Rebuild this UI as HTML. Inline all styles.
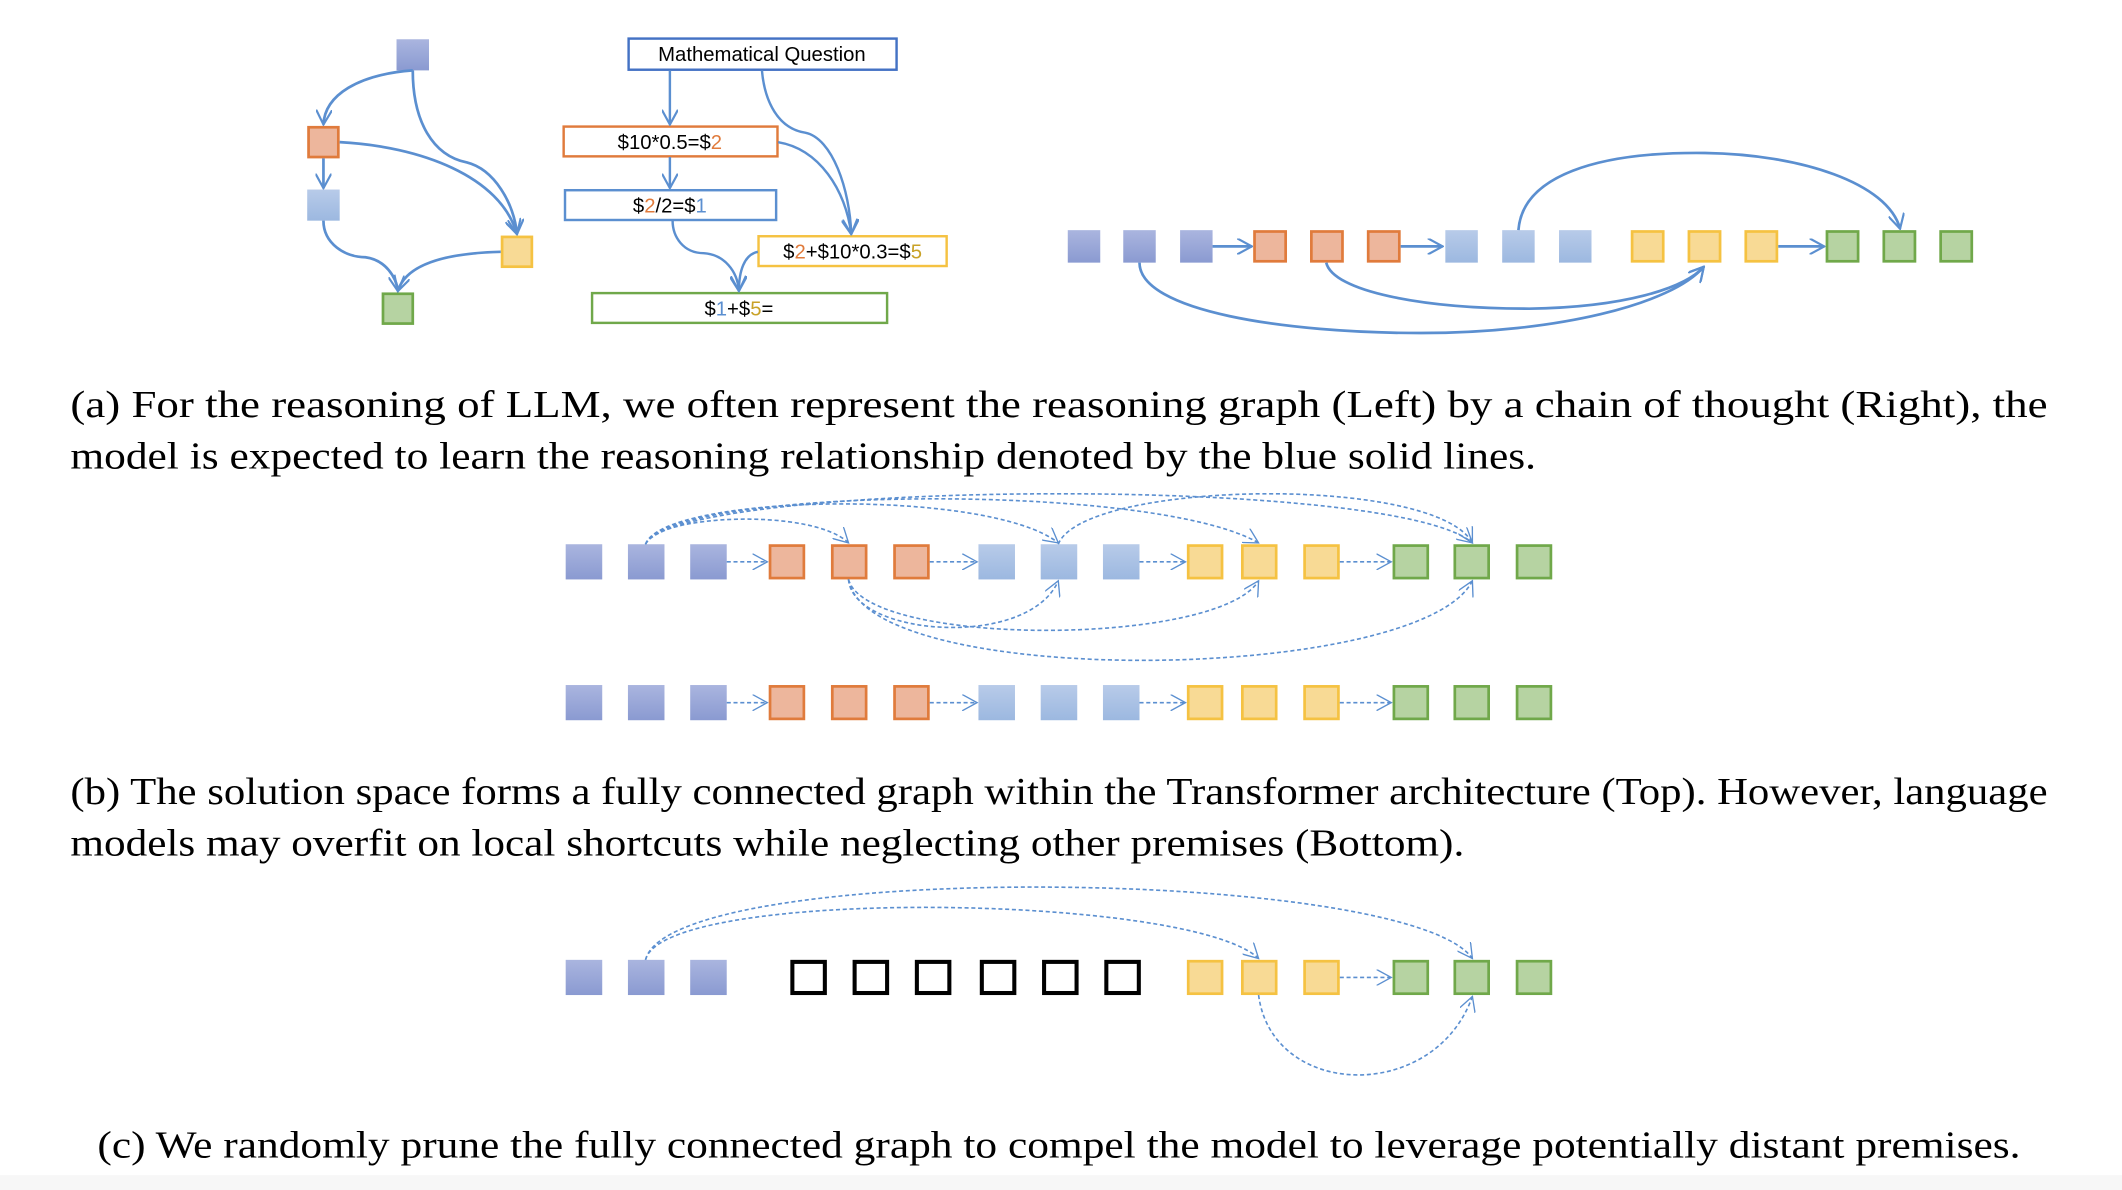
<!DOCTYPE html>
<html><head><meta charset="utf-8"><style>
html,body{margin:0;padding:0;background:#fff;}
svg{display:block;}
</style></head><body>
<svg width="2122" height="1190" viewBox="0 0 1568 879" preserveAspectRatio="none" xmlns="http://www.w3.org/2000/svg">
<defs>
<linearGradient id="gb" x1="0" y1="0" x2="0" y2="1"><stop offset="0" stop-color="#aab5df"/><stop offset="1" stop-color="#8a9ad1"/></linearGradient>
<linearGradient id="gl" x1="0" y1="0" x2="0" y2="1"><stop offset="0" stop-color="#b8cbe9"/><stop offset="1" stop-color="#9cb8e0"/></linearGradient>
<marker id="a" viewBox="0 0 12 12" refX="11" refY="6" markerWidth="12" markerHeight="12" markerUnits="userSpaceOnUse" orient="auto"><polyline points="0,0 11,6 0,12" fill="none" stroke="#5b8fd0" stroke-width="1.6"/></marker>
<marker id="d" viewBox="0 0 12 12" refX="11" refY="6" markerWidth="12" markerHeight="12" markerUnits="userSpaceOnUse" orient="auto"><polyline points="0,0 11,6 0,12" fill="none" stroke="#5b8fd0" stroke-width="1"/></marker>
<g id="B"><rect width="27" height="26" fill="url(#gb)"/></g>
<g id="O"><rect x="1" y="1" width="25" height="24" fill="#edb69c" stroke="#e07b3c" stroke-width="2"/></g>
<g id="L"><rect width="27" height="26" fill="url(#gl)"/></g>
<g id="Y"><rect x="1" y="1" width="25" height="24" fill="#f8da95" stroke="#f5c242" stroke-width="2"/></g>
<g id="G"><rect x="1" y="1" width="25" height="24" fill="#b6d3a2" stroke="#70a84a" stroke-width="2"/></g>
<g id="E"><rect x="1.5" y="1.5" width="24" height="23" fill="none" stroke="#000" stroke-width="3"/></g>
</defs>

<g fill="none" stroke="#5b8fd0" stroke-width="2">
<rect x="293" y="29" width="24" height="23" fill="url(#gb)" stroke="none"/>
<rect x="228" y="94" width="22" height="22" fill="#edb69c" stroke="#e07b3c"/>
<rect x="227" y="140" width="24" height="23" fill="url(#gl)" stroke="none"/>
<rect x="371" y="175" width="22" height="22" fill="#f8da95" stroke="#f5c242"/>
<rect x="283" y="217" width="22" height="22" fill="#b6d3a2" stroke="#70a84a"/>
<path d="M305,52 C265,55 240,70 239,92" marker-end="url(#a)"/>
<path d="M305,52 C305,90 320,115 345,120 C365,125 380,150 382,173" marker-end="url(#a)"/>
<path d="M251,105 C310,108 370,130 382,173" marker-end="url(#a)"/>
<path d="M239,117 L239,139" marker-end="url(#a)"/>
<path d="M239,163 C239,180 255,190 270,190 C285,192 293,205 294,215" marker-end="url(#a)"/>
<path d="M370,186 C330,187 300,195 294,215" marker-end="url(#a)"/>
</g>

<g fill="none" stroke-width="1.8" font-family="Liberation Sans, sans-serif" font-size="15" text-anchor="middle">
<rect x="464.5" y="28.5" width="198" height="23" stroke="#4472c4" fill="#fff"/>
<text x="563" y="45" fill="#000" stroke="none">Mathematical Question</text>
<rect x="416.5" y="93.5" width="158" height="22" stroke="#e07b3c" fill="#fff"/>
<text x="495" y="110" fill="#000" stroke="none">$10*0.5=$<tspan fill="#e07b3c">2</tspan></text>
<rect x="417.5" y="140.5" width="156" height="22" stroke="#5b8fd0" fill="#fff"/>
<text x="495" y="157" fill="#000" stroke="none">$<tspan fill="#e07b3c">2</tspan>/2=$<tspan fill="#5b8fd0">1</tspan></text>
<rect x="560.5" y="174.5" width="139" height="22" stroke="#f5c242" fill="#fff"/>
<text x="630" y="191" fill="#000" stroke="none">$<tspan fill="#e07b3c">2</tspan>+$10*0.3=$<tspan fill="#c9a227">5</tspan></text>
<rect x="437.5" y="216.5" width="218" height="22" stroke="#70a84a" fill="#fff"/>
<text x="546" y="233" fill="#000" stroke="none">$<tspan fill="#5b8fd0">1</tspan>+$<tspan fill="#c9a227">5</tspan>=</text>
</g>
<g fill="none" stroke="#5b8fd0" stroke-width="1.8">
<path d="M495,52 L495,92" marker-end="url(#a)"/>
<path d="M563,52 C565,75 575,95 595,98 C615,102 628,140 629,173" marker-end="url(#a)"/>
<path d="M575,105 C605,110 625,140 629,173" marker-end="url(#a)"/>
<path d="M495,116 L495,139" marker-end="url(#a)"/>
<path d="M497,163 C497,175 505,187 520,187 C535,188 545,200 546,215" marker-end="url(#a)"/>
<path d="M560,186 C550,188 546,200 546,215" marker-end="url(#a)"/>
</g>

<g>
<rect x="789" y="170" width="24" height="24" fill="url(#gb)"/>
<rect x="830" y="170" width="24" height="24" fill="url(#gb)"/>
<rect x="872" y="170" width="24" height="24" fill="url(#gb)"/>
<rect x="927" y="171" width="23" height="22" fill="#edb69c" stroke="#e07b3c" stroke-width="2"/>
<rect x="969" y="171" width="23" height="22" fill="#edb69c" stroke="#e07b3c" stroke-width="2"/>
<rect x="1011" y="171" width="23" height="22" fill="#edb69c" stroke="#e07b3c" stroke-width="2"/>
<rect x="1068" y="170" width="24" height="24" fill="url(#gl)"/>
<rect x="1110" y="170" width="24" height="24" fill="url(#gl)"/>
<rect x="1152" y="170" width="24" height="24" fill="url(#gl)"/>
<rect x="1206" y="171" width="23" height="22" fill="#f8da95" stroke="#f5c242" stroke-width="2"/>
<rect x="1248" y="171" width="23" height="22" fill="#f8da95" stroke="#f5c242" stroke-width="2"/>
<rect x="1290" y="171" width="23" height="22" fill="#f8da95" stroke="#f5c242" stroke-width="2"/>
<rect x="1350" y="171" width="23" height="22" fill="#b6d3a2" stroke="#70a84a" stroke-width="2"/>
<rect x="1392" y="171" width="23" height="22" fill="#b6d3a2" stroke="#70a84a" stroke-width="2"/>
<rect x="1434" y="171" width="23" height="22" fill="#b6d3a2" stroke="#70a84a" stroke-width="2"/>
</g>
<g fill="none" stroke="#5b8fd0" stroke-width="2">
<path d="M896,182 L925,182" marker-end="url(#a)"/>
<path d="M1035,182 L1066,182" marker-end="url(#a)"/>
<path d="M1314,182 L1348,182" marker-end="url(#a)"/>
<path d="M1122,170 C1125,130 1180,112 1260,113 C1330,114 1395,135 1404,169" marker-end="url(#a)"/>
<path d="M842,194 C842,230 950,246 1050,246 C1150,246 1235,225 1259,197" marker-end="url(#a)"/>
<path d="M980,194 C985,215 1050,228 1130,228 C1200,227 1245,213 1259,197" marker-end="url(#a)"/>
</g>

<g font-family="Liberation Serif, serif" font-size="28" fill="#000">
<text x="52" y="308" textLength="1461" lengthAdjust="spacingAndGlyphs">(a) For the reasoning of LLM, we often represent the reasoning graph (Left) by a chain of thought (Right), the</text>
<text x="52" y="346" textLength="1083" lengthAdjust="spacingAndGlyphs">model is expected to learn the reasoning relationship denoted by the blue solid lines.</text>
<text x="52" y="594" textLength="1461" lengthAdjust="spacingAndGlyphs">(b) The solution space forms a fully connected graph within the Transformer architecture (Top). However, language</text>
<text x="52" y="632" textLength="1030" lengthAdjust="spacingAndGlyphs">models may overfit on local shortcuts while neglecting other premises (Bottom).</text>
<text x="72" y="855" textLength="1421" lengthAdjust="spacingAndGlyphs">(c) We randomly prune the fully connected graph to compel the model to leverage potentially distant premises.</text>
</g>

<g transform="translate(0,402)">
<use href="#B" x="418"/><use href="#B" x="464"/><use href="#B" x="510"/>
<use href="#O" x="568"/><use href="#O" x="614"/><use href="#O" x="660"/>
<use href="#L" x="723"/><use href="#L" x="769"/><use href="#L" x="815"/>
<use href="#Y" x="877"/><use href="#Y" x="917"/><use href="#Y" x="963"/>
<use href="#G" x="1029"/><use href="#G" x="1074"/><use href="#G" x="1120"/>
</g>
<g transform="translate(0,506)">
<use href="#B" x="418"/><use href="#B" x="464"/><use href="#B" x="510"/>
<use href="#O" x="568"/><use href="#O" x="614"/><use href="#O" x="660"/>
<use href="#L" x="723"/><use href="#L" x="769"/><use href="#L" x="815"/>
<use href="#Y" x="877"/><use href="#Y" x="917"/><use href="#Y" x="963"/>
<use href="#G" x="1029"/><use href="#G" x="1074"/><use href="#G" x="1120"/>
</g>
<g fill="none" stroke="#5b8fd0" stroke-width="1.2" stroke-dasharray="3,2">
<path d="M537,415 L567,415" marker-end="url(#d)"/>
<path d="M687,415 L722,415" marker-end="url(#d)"/>
<path d="M842,415 L876,415" marker-end="url(#d)"/>
<path d="M990,415 L1028,415" marker-end="url(#d)"/>
<path d="M537,519 L567,519" marker-end="url(#d)"/>
<path d="M687,519 L722,519" marker-end="url(#d)"/>
<path d="M842,519 L876,519" marker-end="url(#d)"/>
<path d="M990,519 L1028,519" marker-end="url(#d)"/>
<path d="M477,402 C485,380 600,375 627,401" marker-end="url(#d)"/>
<path d="M477,402 C490,365 730,360 782,401" marker-end="url(#d)"/>
<path d="M477,402 C495,360 850,355 930,401" marker-end="url(#d)"/>
<path d="M477,402 C500,355 1030,350 1088,401" marker-end="url(#d)"/>
<path d="M782,402 C800,355 1060,350 1088,401" marker-end="url(#d)"/>
<path d="M627,428 C630,470 760,480 782,429" marker-end="url(#d)"/>
<path d="M627,428 C640,478 900,478 930,429" marker-end="url(#d)"/>
<path d="M627,428 C640,510 1050,505 1088,429" marker-end="url(#d)"/>
</g>

<g transform="translate(0,709)">
<use href="#B" x="418"/><use href="#B" x="464"/><use href="#B" x="510"/>
<use href="#E" x="584"/><use href="#E" x="630"/><use href="#E" x="676"/>
<use href="#E" x="724"/><use href="#E" x="770"/><use href="#E" x="816"/>
<use href="#Y" x="877"/><use href="#Y" x="917"/><use href="#Y" x="963"/>
<use href="#G" x="1029"/><use href="#G" x="1074"/><use href="#G" x="1120"/>
</g>
<g fill="none" stroke="#5b8fd0" stroke-width="1.2" stroke-dasharray="3,2">
<path d="M990,722 L1028,722" marker-end="url(#d)"/>
<path d="M477,709 C490,655 880,660 930,708" marker-end="url(#d)"/>
<path d="M477,709 C495,635 1040,640 1088,708" marker-end="url(#d)"/>
<path d="M930,735 C940,812 1060,815 1088,736" marker-end="url(#d)"/>
</g>
<rect x="0" y="868" width="1568" height="11" fill="#f7f7f7"/>
</svg>
</body></html>
